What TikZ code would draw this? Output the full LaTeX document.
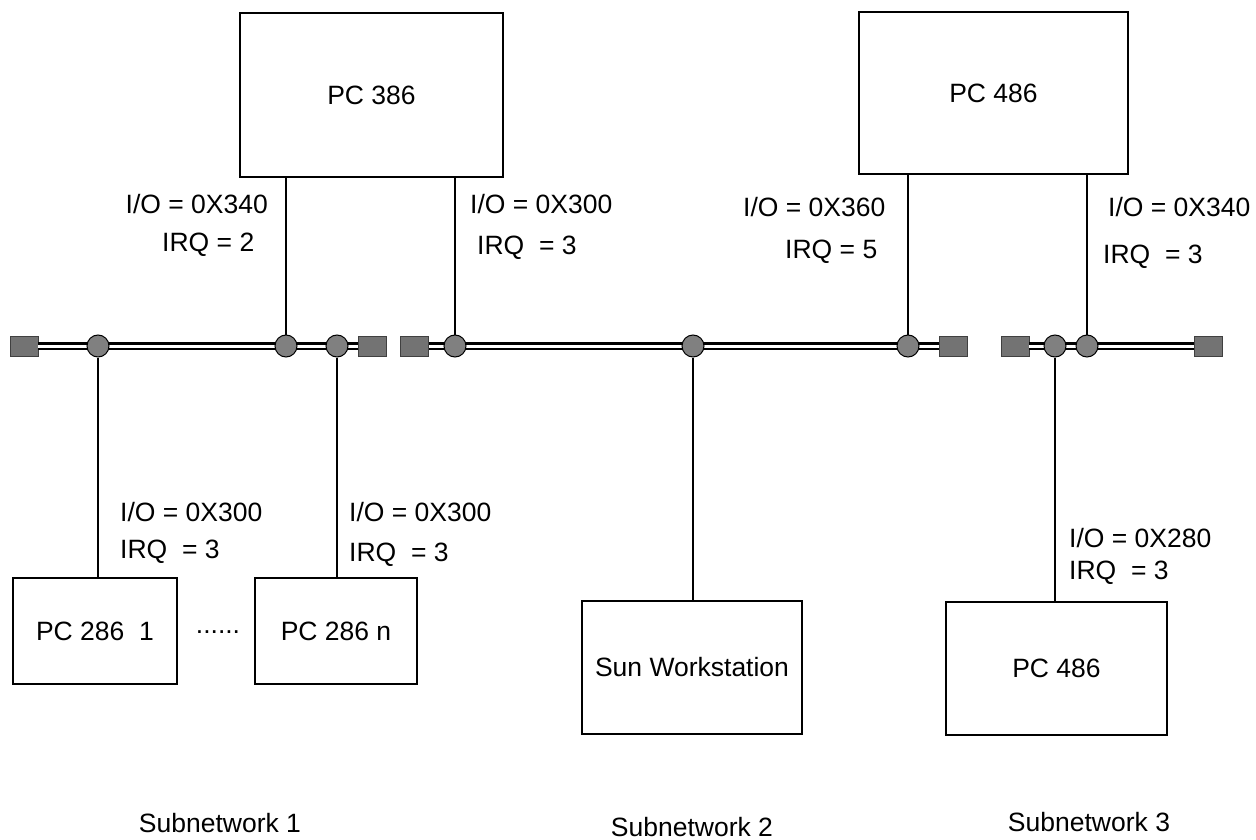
\documentclass[tikz,border=0pt]{standalone}
\usepackage{fontspec}
\setmainfont{Liberation Sans}
\begin{document}
\begin{tikzpicture}[x=1pt,y=-1pt,
  every node/.style={font=\fontsize{26.5}{30}\selectfont},
  box/.style={draw,line width=1.3pt,inner sep=0pt},
  lab/.style={inner sep=0pt},
  wire/.style={line width=1.1pt},
  busout/.style={line width=8pt,black},
  busin/.style={line width=3pt,white},
  tap/.style={circle,draw=black,line width=1pt,fill=black!50,minimum size=22pt,inner sep=0pt},
  term/.style={rectangle,draw=black!75,line width=0.8pt,fill=black!55,minimum width=28pt,minimum height=20pt,inner sep=0pt}]
\fill[white] (0,0) rectangle (1256,840);
\useasboundingbox (0,0) rectangle (1256,840);

% boxes
\node[box,minimum width=263pt,minimum height=164pt] (pc386) at (371.5,95) {PC 386};
\node[box,minimum width=269pt,minimum height=162pt] (pc486a) at (993.5,93) {PC 486};
\node[box,minimum width=164pt,minimum height=106pt] (pc2861) at (95,631) {PC 286 \ 1};
\node[box,minimum width=162pt,minimum height=106pt] (pc286n) at (336,631) {PC 286 n};
\node[box,minimum width=220pt,minimum height=133pt] (sun) at (692,667.5) {Sun Workstation};
\node[box,minimum width=221pt,minimum height=133pt] (pc486b) at (1056.5,668.5) {PC 486};
\node[lab] (dots) at (218,632) {......};

% bus terminators
\node[term] (e1a) at (24,346) {};
\node[term] (e1b) at (372.5,346) {};
\node[term] (e2a) at (414.5,346) {};
\node[term] (e2b) at (953.5,346) {};
\node[term] (e3a) at (1015,346) {};
\node[term] (e3b) at (1208.5,346) {};

% bus cables
\draw[busout] (e1a.east) -- (e1b.west);
\draw[busin] (e1a.east) -- (e1b.west);
\draw[busout] (e2a.east) -- (e2b.west);
\draw[busin] (e2a.east) -- (e2b.west);
\draw[busout] (e3a.east) -- (e3b.west);
\draw[busin] (e3a.east) -- (e3b.west);

% taps
\node[tap] (a1) at (98,346) {};
\node[tap] (a2) at (286,346) {};
\node[tap] (a3) at (337,346) {};
\node[tap] (b1) at (455,346) {};
\node[tap] (b2) at (693,346) {};
\node[tap] (b3) at (908,346) {};
\node[tap] (c1) at (1055,346) {};
\node[tap] (c2) at (1087,346) {};

% drop cables
\draw[wire] (a1) -- (a1 |- pc2861.north);
\draw[wire] (a2) -- (a2 |- pc386.south);
\draw[wire] (a3) -- (a3 |- pc286n.north);
\draw[wire] (b1) -- (b1 |- pc386.south);
\draw[wire] (b2) -- (b2 |- sun.north);
\draw[wire] (b3) -- (b3 |- pc486a.south);
\draw[wire] (c1) -- (c1 |- pc486b.north);
\draw[wire] (c2) -- (c2 |- pc486a.south);

% labels
\node[lab,anchor=east] (l1) at (268,204) {I/O = 0X340};
\node[lab,anchor=west] (l2) at (162,245) {IRQ = 2};
\node[lab,anchor=west] (l3) at (470,204) {I/O = 0X300};
\node[lab,anchor=west] (l4) at (477,248) {IRQ \ = 3};
\node[lab,anchor=west] (l5) at (743,207) {I/O = 0X360};
\node[lab,anchor=west] (l6) at (785,252) {IRQ = 5};
\node[lab,anchor=west] (l7) at (1108,207) {I/O = 0X340};
\node[lab,anchor=west] (l8) at (1103,257) {IRQ \ = 3};
\node[lab,anchor=west] (l9) at (120,512) {I/O = 0X300};
\node[lab,anchor=west] (l10) at (120,552) {IRQ \ = 3};
\node[lab,anchor=west] (l11) at (349,512) {I/O = 0X300};
\node[lab,anchor=west] (l12) at (349,555) {IRQ \ = 3};
\node[lab,anchor=west] (l13) at (1069,538) {I/O = 0X280};
\node[lab,anchor=west] (l14) at (1069,573) {IRQ \ = 3};

\node[lab] (s1) at (220,823) {Subnetwork 1};
\node[lab] (s2) at (692,827) {Subnetwork 2};
\node[lab] (s3) at (1089,822) {Subnetwork 3};
\end{tikzpicture}
\end{document}
